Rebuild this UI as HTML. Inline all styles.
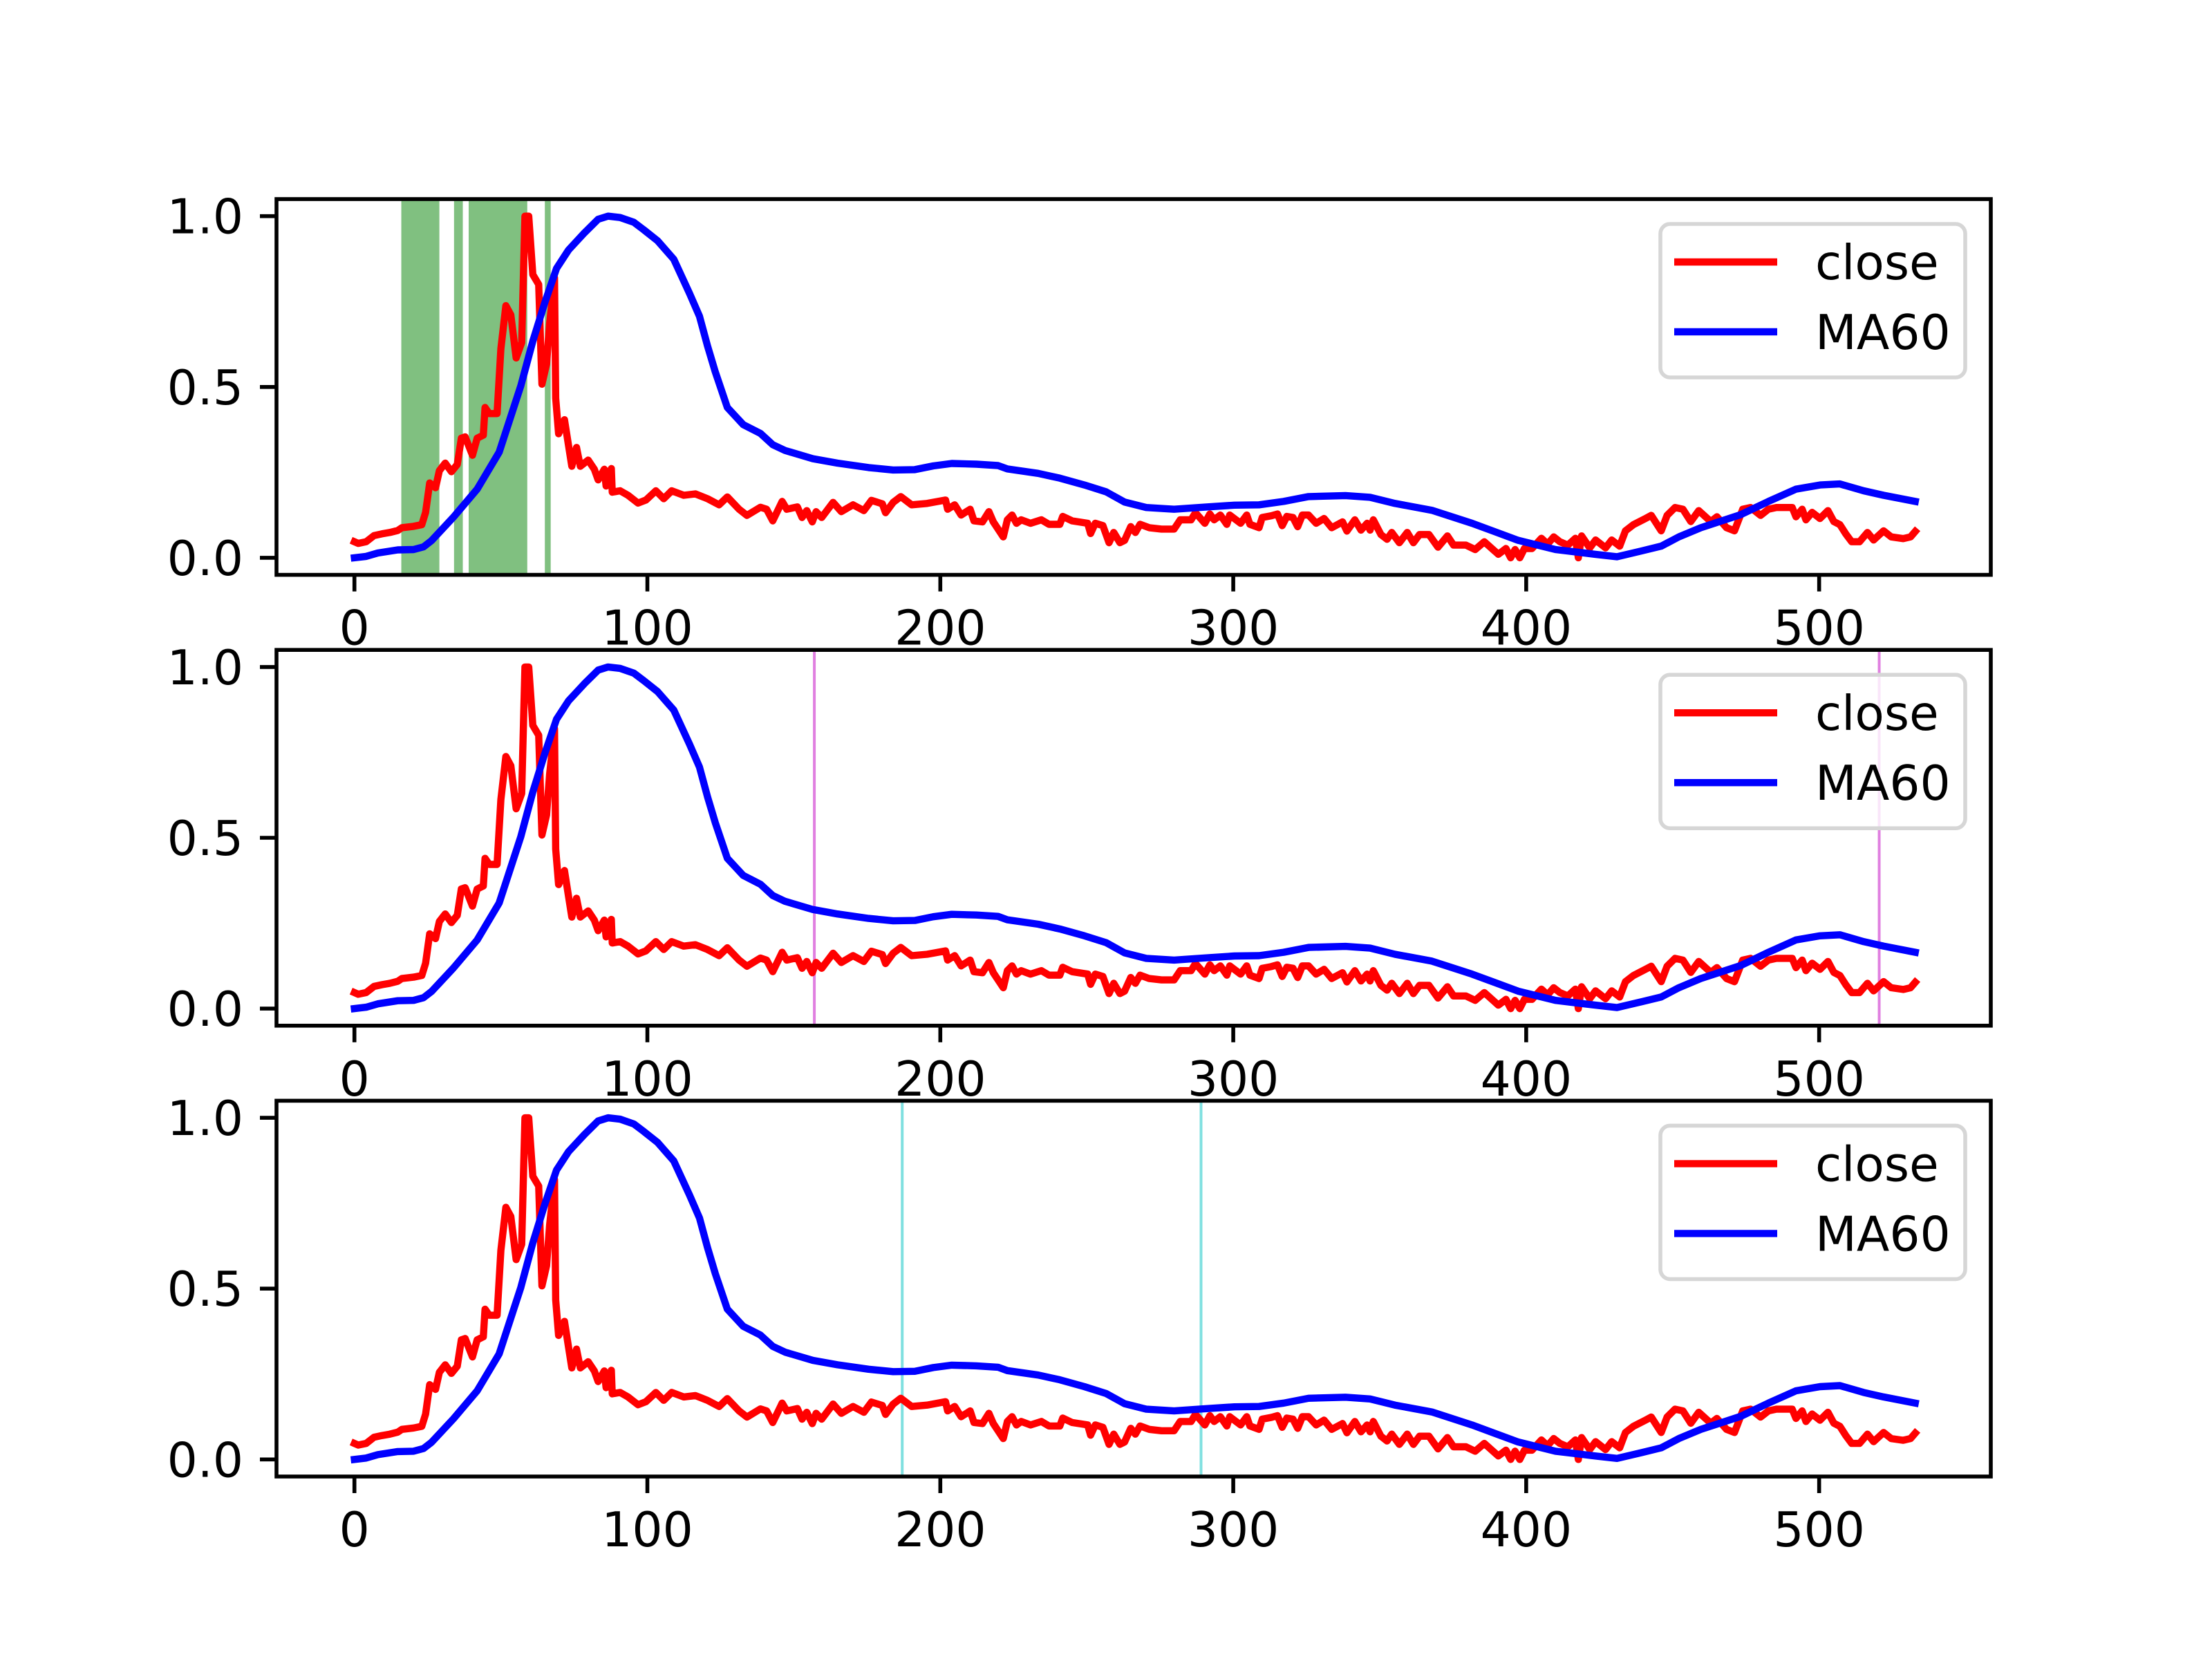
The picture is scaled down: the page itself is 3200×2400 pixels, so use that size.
<!DOCTYPE html>
<html><head><meta charset="utf-8">
<style>
html,body{margin:0;padding:0;background:#fff;}
svg{display:block;}
text{font-family:"DejaVu Sans","Liberation Sans",sans-serif;}
</style></head>
<body>
<svg id="fig" width="3200" height="2400" viewBox="0 0 3200 2400" xmlns="http://www.w3.org/2000/svg">
<rect width="3200" height="2400" fill="#fff"/>
</svg>
<script>
const closeX = [0,1.3,4,6.7,9.4,12.1,14.8,16.2,20.2,23,24.3,25.7,27.7,29,31,33.1,35.1,36.5,37.8,40.3,41.9,44,44.6,46,48.7,50,51.7,53.4,55.2,57.1,58.2,59.5,60.9,62.9,64,65.6,66.6,68.3,68.7,69.7,71.7,74.2,75.8,77.1,79.8,81.9,83.2,85.3,85.9,87.7,88,90.7,93.4,96.8,99.5,102.9,105.6,108.3,112.4,116.4,120.5,124.5,127.3,131.3,134,
138.6,140.7,142.8,146,147.6,151.2,152.8,154.4,156.3,157.6,159.5,163.4,166.2,170.2,173.9,176.5,180.2,181.3,183.9,186.5,190.2,195.5,201.8,202.5,204.9,207.1,210.2,211.5,214.4,216.6,218.1,221.5,222.9,224.5,226,227.6,230.8,234.5,237.1,240.8,241.8,245,250.3,251.3,252.9,255.5,257.6,259.2,261.3,262.9,265,266.6,268.2,271.3,275.5,279.8,281.9,285.6,287.1,290.3,
292,293.5,295.6,297.8,298.8,302.5,304.6,305.7,308.8,309.9,313,315.1,316.7,318.3,320.4,322,323.6,325.7,328.3,331,333.6,337.3,338.8,341.5,343.6,345.7,346.7,347.8,350.4,352.5,354.1,356.7,359.4,361.5,363.6,366.8,369.9,373.1,375.2,379.4,382.6,385.7,390.5,393.1,394.7,396.2,397.8,399.4,402,405.2,407.3,409.4,411.5,414.2,416.8,417.8,418.9,
421.7,423.7,427.1,429.2,431.9,433.9,436.6,440.7,442.7,446.1,448.1,450.8,453.5,456.2,458.9,463,465.1,468.4,471.1,473.9,476.6,480,482.7,485.4,490.8,492.1,494.2,495.5,497.6,500.3,503,505,507.1,509.1,511.1,513.8,516.5,518.6,522,524.6,528.7,531.2,532.8];
const closeY = [0.047,0.042,0.047,0.065,0.07,0.074,0.08,0.088,0.092,0.097,0.133,0.219,0.205,0.255,0.277,0.252,0.273,0.35,0.354,0.30,0.35,0.359,0.44,0.422,0.422,0.612,0.738,0.711,0.585,0.63,1.0,1.0,0.829,0.80,0.508,0.567,0.684,0.82,0.467,0.363,0.404,0.268,0.323,0.268,0.286,0.259,0.228,0.259,0.21,0.261,0.192,0.196,0.183,0.16,0.169,0.196,0.173,0.196,0.183,0.187,0.173,0.155,0.178,0.142,0.124,
0.148,0.142,0.108,0.165,0.142,0.149,0.118,0.138,0.105,0.135,0.118,0.162,0.135,0.155,0.138,0.168,0.158,0.132,0.162,0.179,0.155,0.159,0.169,0.142,0.155,0.125,0.142,0.108,0.105,0.135,0.105,0.061,0.111,0.125,0.101,0.111,0.101,0.111,0.098,0.098,0.121,0.108,0.101,0.071,0.101,0.094,0.044,0.074,0.044,0.051,0.091,0.074,0.098,0.088,0.084,0.084,0.111,0.111,0.132,0.101,
0.128,0.111,0.125,0.098,0.125,0.101,0.125,0.098,0.088,0.118,0.123,0.128,0.094,0.121,0.118,0.091,0.125,0.125,0.101,0.115,0.088,0.105,0.078,0.111,0.081,0.101,0.081,0.111,0.068,0.054,0.074,0.044,0.074,0.044,0.068,0.068,0.031,0.064,0.037,0.037,0.024,0.047,0.010,0.027,0.0,0.024,0.0,0.027,0.027,0.057,0.040,0.061,0.047,0.037,0.057,0.0,0.064,
0.029,0.052,0.029,0.052,0.034,0.079,0.097,0.115,0.124,0.079,0.124,0.147,0.142,0.106,0.138,0.106,0.120,0.088,0.079,0.142,0.147,0.124,0.142,0.147,0.147,0.120,0.142,0.111,0.133,0.115,0.138,0.106,0.097,0.070,0.047,0.047,0.074,0.052,0.079,0.061,0.056,0.061,0.077];
const maX = [0,4,8,14.8,20.2,23.6,26.3,33.8,41.9,49.4,56.8,60.9,65,69,73.1,78.5,83.2,86.6,90.7,95.4,98.8,103.5,109,114.4,117.8,120.5,123.2,127.3,132.7,138.6,142.8,147,156.5,164.9,175.5,183.9,191.3,197.6,203.9,212.3,219.7,222.9,233.4,240.8,249.2,256.6,262.9,270.3,279.8,291.3,300.4,308.8,317.2,325.7,338.3,346.7,355.2,367.8,381.5,397.3,410,423.6,431,439.4,446.1,452.1,459.6,473.2,482.7,492.1,500.3,507.1,515.2,522,532.8];
const maY = [0,0.004,0.014,0.023,0.024,0.032,0.050,0.119,0.201,0.309,0.503,0.634,0.747,0.847,0.901,0.951,0.991,1.0,0.996,0.982,0.96,0.928,0.874,0.774,0.707,0.621,0.544,0.44,0.39,0.364,0.331,0.314,0.290,0.277,0.264,0.257,0.258,0.269,0.276,0.274,0.270,0.260,0.247,0.233,0.213,0.193,0.163,0.147,0.142,0.149,0.154,0.155,0.165,0.179,0.182,0.177,0.159,0.139,0.101,0.051,0.024,0.010,0.003,0.020,0.034,0.061,0.088,0.126,0.165,0.201,0.213,0.216,0.196,0.183,0.165];
const spanStarts = [16,34,39,65];
const spanEnds = [29,37,59,67];
const magentaLines = [157,520.5];
const cyanLines = [187,289];
const xTicks = [0,100,200,300,400,500];
const yTicks = [0,0.5,1.0];
const yTickLabels = ["0.0","0.5","1.0"];

const NS = "http://www.w3.org/2000/svg";
const svg = document.getElementById('fig');
function el(tag, attrs, parent){const e=document.createElementNS(NS,tag);for(const k in attrs)e.setAttribute(k,attrs[k]);(parent||svg).appendChild(e);return e;}
const L=400,R=2880,W=R-L;
const xmin=-26.6,xmax=558.6;
const sx=v=>L+(v-xmin)/(xmax-xmin)*W;
const axesTops=[288,940.2,1592.4];
const H=543.6;

axesTops.forEach((T,i)=>{
  const B=T+H;
  const sy=v=>B-(v+0.05)/1.1*H;
  const g=el('g',{});
  
  
  if(i===0){
    spanStarts.forEach((s,j)=>{
      const r=el('rect',{x:sx(s),y:T,width:sx(spanEnds[j])-sx(s),height:H,fill:'#80c080'},g);
      
      
    });
  }
  if(i===1){
    magentaLines.forEach(v=>{
      const l=el('line',{x1:sx(v),x2:sx(v),y1:T,y2:B,stroke:'#e080e0','stroke-width':4},g);
      
      
    });
  }
  if(i===2){
    cyanLines.forEach(v=>{
      const l=el('line',{x1:sx(v),x2:sx(v),y1:T,y2:B,stroke:'#80e0e0','stroke-width':4},g);
      
      
    });
  }
  const cp=el('polyline',{points:closeX.map((x,k)=>sx(x).toFixed(1)+','+sy(closeY[k]).toFixed(1)).join(' '),fill:'none',stroke:'#ff0000','stroke-width':10.4,'stroke-linejoin':'round','stroke-linecap':'square'},g);
  
  
  const mp=el('polyline',{points:maX.map((x,k)=>sx(x).toFixed(1)+','+sy(maY[k]).toFixed(1)).join(' '),fill:'none',stroke:'#0000ff','stroke-width':10.4,'stroke-linejoin':'round','stroke-linecap':'square'},g);
  
  
  const fr=el('rect',{x:L,y:T,width:W,height:H,fill:'none',stroke:'#000','stroke-width':5.6},g);
  
  
  xTicks.forEach(t=>{
    el('line',{x1:sx(t),x2:sx(t),y1:B,y2:B+24,stroke:'#000','stroke-width':5.6},g);
    const tx=el('text',{x:sx(t),y:B+101,'font-size':69.4,'text-anchor':'middle',fill:'#000'},g);
    tx.textContent=t;
    
    
  });
  yTicks.forEach((t,j)=>{
    el('line',{x1:L-24,x2:L,y1:sy(t),y2:sy(t),stroke:'#000','stroke-width':5.6},g);
    const tx=el('text',{x:L-48,y:sy(t)+25,'font-size':69.4,'text-anchor':'end',fill:'#000'},g);
    tx.textContent=yTickLabels[j];
    
    
  });
  const lg=el('g',{},g);
  
  
  el('rect',{x:2402,y:T+36,width:441,height:222,rx:14,fill:'#fff','fill-opacity':0.8,stroke:'#d6d6d6','stroke-width':5.6},lg);
  el('line',{x1:2422,x2:2571,y1:T+91,y2:T+91,stroke:'#ff0000','stroke-width':10.4},lg);
  el('line',{x1:2422,x2:2571,y1:T+192,y2:T+192,stroke:'#0000ff','stroke-width':10.4},lg);
  const t1=el('text',{x:2626,y:T+116,'font-size':69.4,fill:'#000'},lg);
  t1.textContent='close';
  
  
  const t2=el('text',{x:2626,y:T+217,'font-size':69.4,fill:'#000'},lg);
  t2.textContent='MA60';
  
  
});
</script>
</body></html>
